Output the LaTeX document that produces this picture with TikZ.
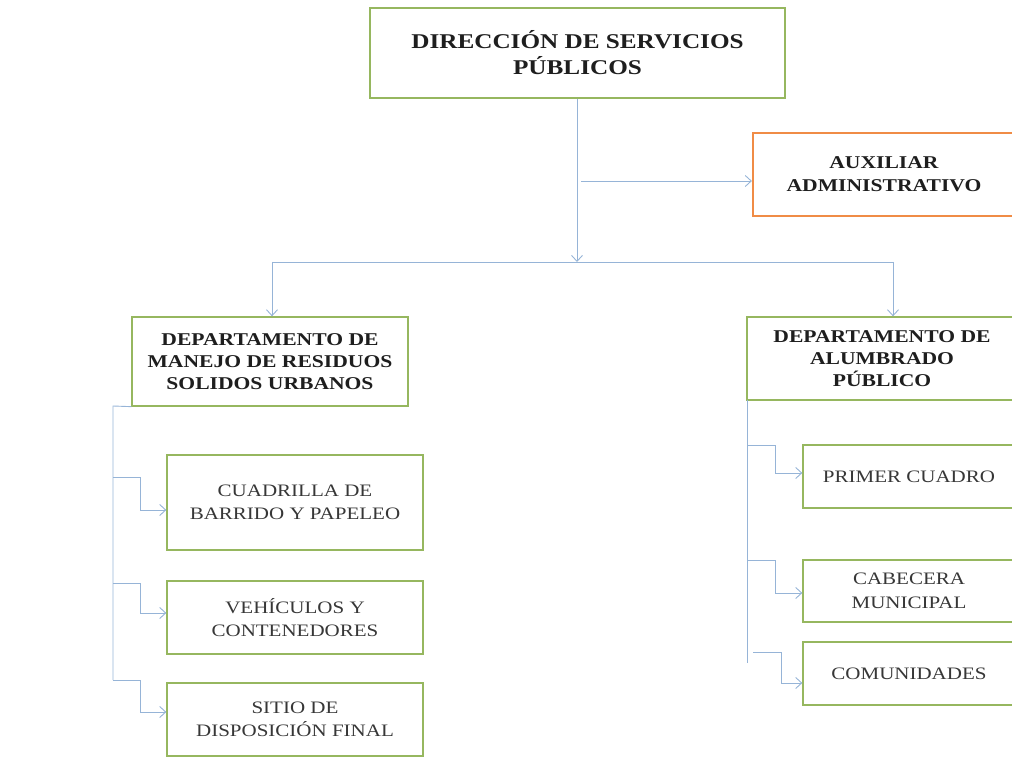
\documentclass[tikz,border=0pt]{standalone}
\usepackage{fontspec}
\setmainfont{Liberation Serif}[FakeStretch=1.2]
\usetikzlibrary{arrows.meta}
\definecolor{boxgreen}{RGB}{150,183,95}
\definecolor{boxorange}{RGB}{240,140,70}
\definecolor{linkblue}{RGB}{150,180,215}
\definecolor{txt}{RGB}{30,30,30}
\definecolor{subtxt}{RGB}{55,55,55}
\tikzset{
  orgbox/.style={draw=boxgreen, line width=1.3pt, fill=white, rectangle, align=center, text=txt, inner sep=0pt},
  auxbox/.style={draw=boxorange, line width=2.2pt, fill=white, rectangle, align=center, text=txt, inner sep=0pt},
  link/.style={draw=linkblue, line width=0.9pt},
  linkarrow/.style={link, -{Straight Barb[length=6pt,width=11pt,line width=0.9pt]}},
  headfont/.style={font=\bfseries\fontsize{21}{26}\selectfont},
  auxfont/.style={font=\bfseries\fontsize{18}{23}\selectfont},
  deptfont/.style={font=\bfseries\fontsize{18}{22}\selectfont},
  subfont/.style={font=\fontsize{17.5}{23.5}\selectfont, text=subtxt},
}
\begin{document}
\begin{tikzpicture}[x=1pt,y=-1pt]
\useasboundingbox (0,0) rectangle (1012,759);
\clip (0,0) rectangle (1012,759);
% boxes
\node[orgbox, headfont, minimum width=415pt, minimum height=90pt] (top) at (577.5,53) {DIRECCIÓN DE SERVICIOS\\PÚBLICOS};
\node[auxbox, auxfont, minimum width=262pt, minimum height=83pt] (aux) at (884,174.5) {AUXILIAR\\ADMINISTRATIVO};
\node[orgbox, deptfont, minimum width=276pt, minimum height=89pt] (ld) at (270,361.5) {DEPARTAMENTO DE\\MANEJO DE RESIDUOS\\SOLIDOS URBANOS};
\node[orgbox, deptfont, minimum width=270pt, minimum height=83pt] (rd) at (882,358.5) {DEPARTAMENTO DE\\ALUMBRADO\\PÚBLICO};
\node[orgbox, subfont, minimum width=256pt, minimum height=95pt] (l1) at (295,502.5) {CUADRILLA DE\\BARRIDO Y PAPELEO};
\node[orgbox, subfont, minimum width=256pt, minimum height=73pt] (l2) at (295,617.5) {VEHÍCULOS Y\\CONTENEDORES};
\node[orgbox, subfont, minimum width=256pt, minimum height=73pt] (l3) at (295,719.5) {SITIO DE\\DISPOSICIÓN FINAL};
\node[orgbox, subfont, minimum width=212pt, minimum height=63pt] (r1) at (909,476.5) {PRIMER CUADRO};
\node[orgbox, subfont, minimum width=212pt, minimum height=62pt] (r2) at (909,591) {CABECERA\\MUNICIPAL};
\node[orgbox, subfont, minimum width=212pt, minimum height=63pt] (r3) at (909,673.5) {COMUNIDADES};
% coordinates
\coordinate (bus) at (577,262);
\coordinate (busL) at (272,262);
\coordinate (busR) at (893,262);
\coordinate (auxsrc) at (581,181);
\coordinate (lsp) at (113,406);
\coordinate (lspend) at (113,680);
\coordinate (rsp) at (747,400);
\coordinate (rspend) at (747,663);
% top connectors
\draw[linkarrow] (top.south -| bus) -- (bus);
\draw[linkarrow] (auxsrc) -- (aux.west |- auxsrc);
\draw[link] (busL) -- (busR);
\draw[linkarrow] (busL) -- (busL |- ld.north);
\draw[linkarrow] (busR) -- (busR |- rd.north);
% left tree
\draw[link] (ld.south west) -- (lsp) -- (lspend);
\draw[linkarrow] (113,477) -- (140,477) -- (140,510) -- (l1.west |- 0,510);
\draw[linkarrow] (113,583) -- (140,583) -- (140,613) -- (l2.west |- 0,613);
\draw[linkarrow] (lspend) -- (140,680) -- (140,712) -- (l3.west |- 0,712);
% right tree
\draw[link] (rsp) -- (rspend);
\draw[linkarrow] (747,445) -- (775,445) -- (775,473) -- (r1.west |- 0,473);
\draw[linkarrow] (747,560) -- (775,560) -- (775,593) -- (r2.west |- 0,593);
\draw[linkarrow] (753,652) -- (781,652) -- (781,683) -- (r3.west |- 0,683);
\end{tikzpicture}
\end{document}
